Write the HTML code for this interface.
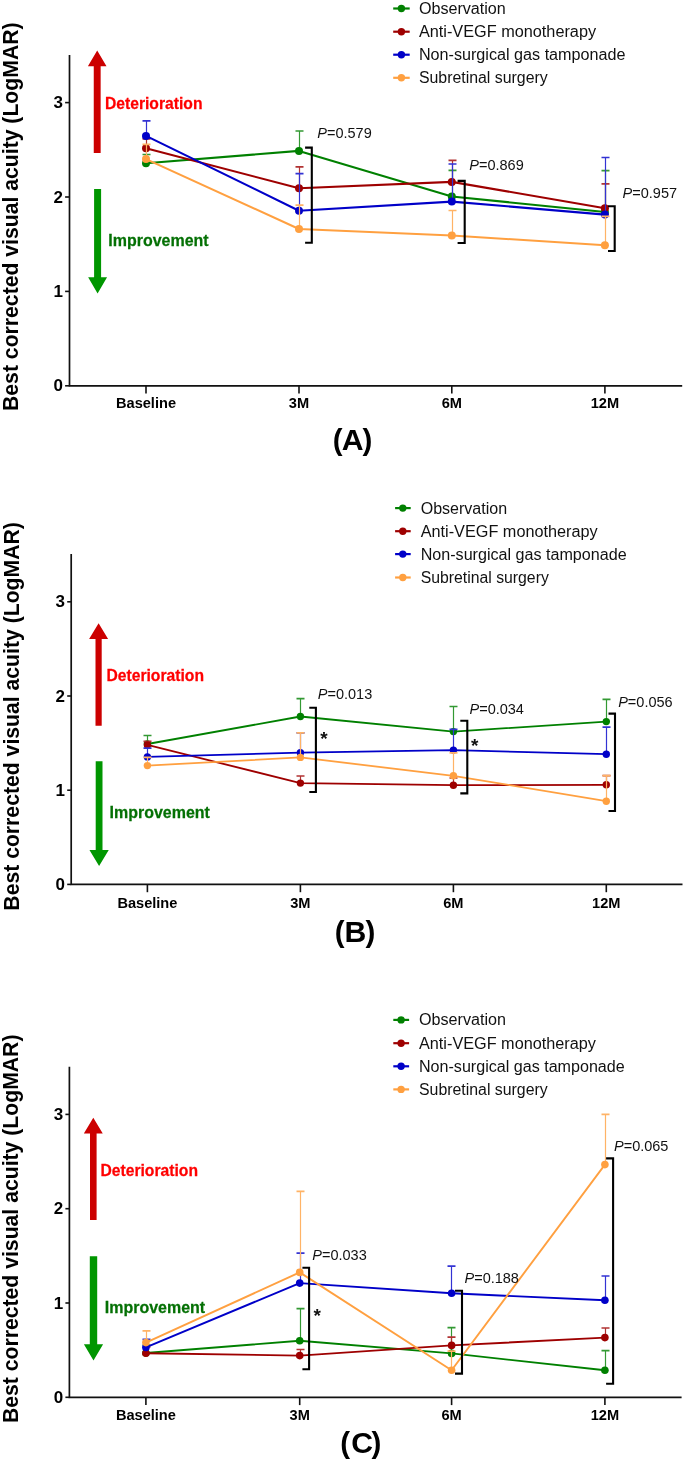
<!DOCTYPE html>
<html><head><meta charset="utf-8"><style>
html,body{margin:0;padding:0;background:#fff;}
body{width:685px;height:1461px;overflow:hidden;}
svg{display:block;font-family:"Liberation Sans", sans-serif;will-change:transform;}
</style></head><body>
<svg width="685" height="1461" viewBox="0 0 685 1461">
<rect width="685" height="1461" fill="#fff"/>
<path d="M69.5 55V385.8H682.2" fill="none" stroke="#111" stroke-width="1.7"/>
<path d="M65.1 385.8H69.5" stroke="#111" stroke-width="1.6"/>
<text x="62.9" y="391.4" text-anchor="end" font-weight="bold" font-size="17">0</text>
<path d="M65.1 291.4H69.5" stroke="#111" stroke-width="1.6"/>
<text x="62.9" y="297" text-anchor="end" font-weight="bold" font-size="17">1</text>
<path d="M65.1 197H69.5" stroke="#111" stroke-width="1.6"/>
<text x="62.9" y="202.6" text-anchor="end" font-weight="bold" font-size="17">2</text>
<path d="M65.1 102.6H69.5" stroke="#111" stroke-width="1.6"/>
<text x="62.9" y="108.2" text-anchor="end" font-weight="bold" font-size="17">3</text>
<path d="M146 385.8V393.6" stroke="#111" stroke-width="1.6"/>
<text x="146" y="408.4" text-anchor="middle" font-weight="bold" font-size="14.6">Baseline</text>
<path d="M299 385.8V393.6" stroke="#111" stroke-width="1.6"/>
<text x="299" y="408.4" text-anchor="middle" font-weight="bold" font-size="14.6">3M</text>
<path d="M451.8 385.8V393.6" stroke="#111" stroke-width="1.6"/>
<text x="451.8" y="408.4" text-anchor="middle" font-weight="bold" font-size="14.6">6M</text>
<path d="M604.9 385.8V393.6" stroke="#111" stroke-width="1.6"/>
<text x="604.9" y="408.4" text-anchor="middle" font-weight="bold" font-size="14.6">12M</text>
<text transform="translate(18 216.7) rotate(-90)" text-anchor="middle" font-weight="bold" font-size="21.2">Best corrected visual acuity (LogMAR)</text>
<text x="332.8" y="449.8" font-weight="bold" font-size="29.5">(</text>
<text x="341.8" y="449.8" font-weight="bold" font-size="30.2">A</text>
<text x="362.5" y="449.8" font-weight="bold" font-size="29.5">)</text>
<path d="M97.2 50.5L106.5 66.3H100.65V153H93.75V66.3H87.9Z" fill="#cc0000"/>
<path d="M97.6 293.6L107.05 277.2H101.1V188.9H94.1V277.2H88.15Z" fill="#009600"/>
<text transform="translate(104.9 108.7) scale(0.9335 1)" font-weight="bold" font-size="16.8" fill="#ff0000" stroke="#ff0000" stroke-width="0.25">Deterioration</text>
<text transform="translate(108.3 245.7) scale(0.9296 1)" font-weight="bold" font-size="17.2" fill="#047004" stroke="#047004" stroke-width="0.25">Improvement</text>
<path d="M393.2 8.5H409.7" stroke="#008000" stroke-width="2.2"/>
<circle cx="401.4" cy="8.5" r="3.7" fill="#008000"/>
<text x="418.9" y="14" font-size="16" fill="#111" textLength="86.9" lengthAdjust="spacingAndGlyphs">Observation</text>
<path d="M393.2 31.7H409.7" stroke="#9e0000" stroke-width="2.2"/>
<circle cx="401.4" cy="31.7" r="3.7" fill="#9e0000"/>
<text x="418.9" y="37.2" font-size="16" fill="#111" textLength="177.2" lengthAdjust="spacingAndGlyphs">Anti-VEGF monotherapy</text>
<path d="M393.2 54.7H409.7" stroke="#0000c8" stroke-width="2.2"/>
<circle cx="401.4" cy="54.7" r="3.7" fill="#0000c8"/>
<text x="418.9" y="60.2" font-size="16" fill="#111" textLength="206.6" lengthAdjust="spacingAndGlyphs">Non-surgical gas tamponade</text>
<path d="M393.2 77.8H409.7" stroke="#ffa040" stroke-width="2.2"/>
<circle cx="401.4" cy="77.8" r="3.7" fill="#ffa040"/>
<text x="418.9" y="83.3" font-size="16" fill="#111" textLength="128.8" lengthAdjust="spacingAndGlyphs">Subretinal surgery</text>
<path d="M146.5 163.3V154.5M299.5 150.9V131M452.5 196.5V170.3M605.5 212V170.6" stroke="#339933" stroke-width="1.2" fill="none"/>
<path d="M142.5 154.5H150.5M295.5 131H303.5M448.5 170.3H456.5M601.5 170.6H609.5" stroke="#339933" stroke-width="1.7" fill="none"/>
<path d="M146 163.3L299 150.9L451.8 196.5L604.9 212" stroke="#008000" stroke-width="2.1" fill="none" stroke-linejoin="round"/>
<circle cx="146" cy="163.3" r="4.0" fill="#008000"/>
<circle cx="299" cy="150.9" r="4.0" fill="#008000"/>
<circle cx="451.8" cy="196.5" r="4.0" fill="#008000"/>
<circle cx="604.9" cy="212" r="4.0" fill="#008000"/>
<path d="M146.5 148.3V138.8M299.5 188.2V166.9M452.5 181.9V160.4M605.5 208.2V183.8" stroke="#b13333" stroke-width="1.2" fill="none"/>
<path d="M142.5 138.8H150.5M295.5 166.9H303.5M448.5 160.4H456.5M601.5 183.8H609.5" stroke="#b13333" stroke-width="1.7" fill="none"/>
<path d="M146 148.3L299 188.2L451.8 181.9L604.9 208.2" stroke="#9e0000" stroke-width="2.1" fill="none" stroke-linejoin="round"/>
<circle cx="146" cy="148.3" r="4.0" fill="#9e0000"/>
<circle cx="299" cy="188.2" r="4.0" fill="#9e0000"/>
<circle cx="451.8" cy="181.9" r="4.0" fill="#9e0000"/>
<circle cx="604.9" cy="208.2" r="4.0" fill="#9e0000"/>
<path d="M146.5 135.9V120.8M299.5 210.7V173.6M452.5 201.6V164M605.5 214.6V157.5" stroke="#3333d3" stroke-width="1.2" fill="none"/>
<path d="M142.5 120.8H150.5M295.5 173.6H303.5M448.5 164H456.5M601.5 157.5H609.5" stroke="#3333d3" stroke-width="1.7" fill="none"/>
<path d="M146 135.9L299 210.7L451.8 201.6L604.9 214.6" stroke="#0000c8" stroke-width="2.1" fill="none" stroke-linejoin="round"/>
<circle cx="146" cy="135.9" r="4.0" fill="#0000c8"/>
<circle cx="299" cy="210.7" r="4.0" fill="#0000c8"/>
<circle cx="451.8" cy="201.6" r="4.0" fill="#0000c8"/>
<circle cx="604.9" cy="214.6" r="4.0" fill="#0000c8"/>
<path d="M146.5 159.1V144.3M299.5 229V205.2M452.5 235.5V210.5M605.5 245.2V216.3" stroke="#ffb366" stroke-width="1.2" fill="none"/>
<path d="M142.5 144.3H150.5M295.5 205.2H303.5M448.5 210.5H456.5M601.5 216.3H609.5" stroke="#ffb366" stroke-width="1.7" fill="none"/>
<path d="M146 159.1L299 229L451.8 235.5L604.9 245.2" stroke="#ffa040" stroke-width="2.1" fill="none" stroke-linejoin="round"/>
<circle cx="146" cy="159.1" r="4.0" fill="#ffa040"/>
<circle cx="299" cy="229" r="4.0" fill="#ffa040"/>
<circle cx="451.8" cy="235.5" r="4.0" fill="#ffa040"/>
<circle cx="604.9" cy="245.2" r="4.0" fill="#ffa040"/>
<path d="M305.1 147.6H311.8V242.8H305.1" fill="none" stroke="#000" stroke-width="2.1"/>
<path d="M457.6 180.9H464.7V243H457.6" fill="none" stroke="#000" stroke-width="2.1"/>
<path d="M608 206.3H614.7V251H608" fill="none" stroke="#000" stroke-width="2.1"/>
<text x="317.3" y="137.6" font-size="14.5" fill="#111"><tspan font-style="italic">P</tspan>=0.579</text>
<text x="469.3" y="170.1" font-size="14.5" fill="#111"><tspan font-style="italic">P</tspan>=0.869</text>
<text x="622.6" y="197.5" font-size="14.5" fill="#111"><tspan font-style="italic">P</tspan>=0.957</text>
<path d="M71.2 554V884.4H682.5" fill="none" stroke="#111" stroke-width="1.7"/>
<path d="M67.2 884.4H71.2" stroke="#111" stroke-width="1.6"/>
<text x="65" y="890" text-anchor="end" font-weight="bold" font-size="17">0</text>
<path d="M67.2 790.2H71.2" stroke="#111" stroke-width="1.6"/>
<text x="65" y="795.8" text-anchor="end" font-weight="bold" font-size="17">1</text>
<path d="M67.2 696H71.2" stroke="#111" stroke-width="1.6"/>
<text x="65" y="701.6" text-anchor="end" font-weight="bold" font-size="17">2</text>
<path d="M67.2 601.8H71.2" stroke="#111" stroke-width="1.6"/>
<text x="65" y="607.4" text-anchor="end" font-weight="bold" font-size="17">3</text>
<path d="M147.4 884.4V892.2" stroke="#111" stroke-width="1.6"/>
<text x="147.4" y="907.7" text-anchor="middle" font-weight="bold" font-size="14.6">Baseline</text>
<path d="M300.4 884.4V892.2" stroke="#111" stroke-width="1.6"/>
<text x="300.4" y="907.7" text-anchor="middle" font-weight="bold" font-size="14.6">3M</text>
<path d="M453.4 884.4V892.2" stroke="#111" stroke-width="1.6"/>
<text x="453.4" y="907.7" text-anchor="middle" font-weight="bold" font-size="14.6">6M</text>
<path d="M606.3 884.4V892.2" stroke="#111" stroke-width="1.6"/>
<text x="606.3" y="907.7" text-anchor="middle" font-weight="bold" font-size="14.6">12M</text>
<text transform="translate(18.8 716.4) rotate(-90)" text-anchor="middle" font-weight="bold" font-size="21.2">Best corrected visual acuity (LogMAR)</text>
<text x="334.8" y="941.8" font-weight="bold" font-size="29.5">(</text>
<text x="344.5" y="941.8" font-weight="bold" font-size="30.2">B</text>
<text x="365.5" y="941.8" font-weight="bold" font-size="29.5">)</text>
<path d="M98.6 623.2L108.1 639H101.7V725.7H95.5V639H89.1Z" fill="#cc0000"/>
<path d="M99.1 866L108.75 850H102.5V761.3H95.7V850H89.45Z" fill="#009600"/>
<text transform="translate(106.4 681.3) scale(0.9335 1)" font-weight="bold" font-size="16.8" fill="#ff0000" stroke="#ff0000" stroke-width="0.25">Deterioration</text>
<text transform="translate(109.6 818.3) scale(0.9296 1)" font-weight="bold" font-size="17.2" fill="#047004" stroke="#047004" stroke-width="0.25">Improvement</text>
<path d="M395.1 508.1H410.7" stroke="#008000" stroke-width="2.2"/>
<circle cx="402.8" cy="508.1" r="3.7" fill="#008000"/>
<text x="420.7" y="513.6" font-size="16" fill="#111" textLength="86.4" lengthAdjust="spacingAndGlyphs">Observation</text>
<path d="M395.1 531.2H410.7" stroke="#9e0000" stroke-width="2.2"/>
<circle cx="402.8" cy="531.2" r="3.7" fill="#9e0000"/>
<text x="420.7" y="536.7" font-size="16" fill="#111" textLength="177" lengthAdjust="spacingAndGlyphs">Anti-VEGF monotherapy</text>
<path d="M395.1 554.1H410.7" stroke="#0000c8" stroke-width="2.2"/>
<circle cx="402.8" cy="554.1" r="3.7" fill="#0000c8"/>
<text x="420.7" y="559.6" font-size="16" fill="#111" textLength="205.9" lengthAdjust="spacingAndGlyphs">Non-surgical gas tamponade</text>
<path d="M395.1 577.5H410.7" stroke="#ffa040" stroke-width="2.2"/>
<circle cx="402.8" cy="577.5" r="3.7" fill="#ffa040"/>
<text x="420.7" y="583" font-size="16" fill="#111" textLength="128.1" lengthAdjust="spacingAndGlyphs">Subretinal surgery</text>
<path d="M147.5 744V735.5M300.5 716.5V698.7M453.5 731.6V706.5M606.5 721.6V699.4" stroke="#339933" stroke-width="1.2" fill="none"/>
<path d="M143.5 735.5H151.5M296.5 698.7H304.5M449.5 706.5H457.5M602.5 699.4H610.5" stroke="#339933" stroke-width="1.7" fill="none"/>
<path d="M147.4 744L300.4 716.5L453.4 731.6L606.3 721.6" stroke="#008000" stroke-width="1.8" fill="none" stroke-linejoin="round"/>
<circle cx="147.4" cy="744" r="3.7" fill="#008000"/>
<circle cx="300.4" cy="716.5" r="3.7" fill="#008000"/>
<circle cx="453.4" cy="731.6" r="3.7" fill="#008000"/>
<circle cx="606.3" cy="721.6" r="3.7" fill="#008000"/>
<path d="M147.5 744.9V741.4M300.5 783.1V776M453.5 785.2V778M606.5 784.8V775.6" stroke="#b13333" stroke-width="1.2" fill="none"/>
<path d="M143.5 741.4H151.5M296.5 776H304.5M449.5 778H457.5M602.5 775.6H610.5" stroke="#b13333" stroke-width="1.7" fill="none"/>
<path d="M147.4 744.9L300.4 783.1L453.4 785.2L606.3 784.8" stroke="#9e0000" stroke-width="1.8" fill="none" stroke-linejoin="round"/>
<circle cx="147.4" cy="744.9" r="3.7" fill="#9e0000"/>
<circle cx="300.4" cy="783.1" r="3.7" fill="#9e0000"/>
<circle cx="453.4" cy="785.2" r="3.7" fill="#9e0000"/>
<circle cx="606.3" cy="784.8" r="3.7" fill="#9e0000"/>
<path d="M147.5 756.9V748.2M300.5 752.7V732.8M453.5 750.1V729.4M606.5 754.2V727.2" stroke="#3333d3" stroke-width="1.2" fill="none"/>
<path d="M143.5 748.2H151.5M296.5 732.8H304.5M449.5 729.4H457.5M602.5 727.2H610.5" stroke="#3333d3" stroke-width="1.7" fill="none"/>
<path d="M147.4 756.9L300.4 752.7L453.4 750.1L606.3 754.2" stroke="#0000c8" stroke-width="1.8" fill="none" stroke-linejoin="round"/>
<circle cx="147.4" cy="756.9" r="3.7" fill="#0000c8"/>
<circle cx="300.4" cy="752.7" r="3.7" fill="#0000c8"/>
<circle cx="453.4" cy="750.1" r="3.7" fill="#0000c8"/>
<circle cx="606.3" cy="754.2" r="3.7" fill="#0000c8"/>
<path d="M147.5 765.6V757.3M300.5 757.4V732.8M453.5 775.8V752.8M606.5 801.2V775.6" stroke="#ffb366" stroke-width="1.2" fill="none"/>
<path d="M143.5 757.3H151.5M296.5 732.8H304.5M449.5 752.8H457.5M602.5 775.6H610.5" stroke="#ffb366" stroke-width="1.7" fill="none"/>
<path d="M147.4 765.6L300.4 757.4L453.4 775.8L606.3 801.2" stroke="#ffa040" stroke-width="1.8" fill="none" stroke-linejoin="round"/>
<circle cx="147.4" cy="765.6" r="3.7" fill="#ffa040"/>
<circle cx="300.4" cy="757.4" r="3.7" fill="#ffa040"/>
<circle cx="453.4" cy="775.8" r="3.7" fill="#ffa040"/>
<circle cx="606.3" cy="801.2" r="3.7" fill="#ffa040"/>
<path d="M309.3 707.7H315.9V792H309.3" fill="none" stroke="#000" stroke-width="2.1"/>
<path d="M460.3 720.7H467.3V793.4H460.3" fill="none" stroke="#000" stroke-width="2.1"/>
<path d="M608.5 713.6H615V811H608.5" fill="none" stroke="#000" stroke-width="2.1"/>
<text x="317.8" y="699" font-size="14.5" fill="#111"><tspan font-style="italic">P</tspan>=0.013</text>
<text x="469.5" y="714.1" font-size="14.5" fill="#111"><tspan font-style="italic">P</tspan>=0.034</text>
<text x="618.2" y="706.7" font-size="14.5" fill="#111"><tspan font-style="italic">P</tspan>=0.056</text>
<text x="320.3" y="744.8" font-size="19" font-weight="bold" fill="#111">*</text>
<text x="471" y="751.9" font-size="19" font-weight="bold" fill="#111">*</text>
<path d="M69.4 1066.7V1397.3H681.6" fill="none" stroke="#111" stroke-width="1.7"/>
<path d="M65.4 1397.3H69.4" stroke="#111" stroke-width="1.6"/>
<text x="63.2" y="1402.9" text-anchor="end" font-weight="bold" font-size="17">0</text>
<path d="M65.4 1303H69.4" stroke="#111" stroke-width="1.6"/>
<text x="63.2" y="1308.6" text-anchor="end" font-weight="bold" font-size="17">1</text>
<path d="M65.4 1208.7H69.4" stroke="#111" stroke-width="1.6"/>
<text x="63.2" y="1214.3" text-anchor="end" font-weight="bold" font-size="17">2</text>
<path d="M65.4 1114.4H69.4" stroke="#111" stroke-width="1.6"/>
<text x="63.2" y="1120" text-anchor="end" font-weight="bold" font-size="17">3</text>
<path d="M145.9 1397.3V1405.1" stroke="#111" stroke-width="1.6"/>
<text x="145.9" y="1419.7" text-anchor="middle" font-weight="bold" font-size="14.6">Baseline</text>
<path d="M299.7 1397.3V1405.1" stroke="#111" stroke-width="1.6"/>
<text x="299.7" y="1419.7" text-anchor="middle" font-weight="bold" font-size="14.6">3M</text>
<path d="M451.6 1397.3V1405.1" stroke="#111" stroke-width="1.6"/>
<text x="451.6" y="1419.7" text-anchor="middle" font-weight="bold" font-size="14.6">6M</text>
<path d="M604.9 1397.3V1405.1" stroke="#111" stroke-width="1.6"/>
<text x="604.9" y="1419.7" text-anchor="middle" font-weight="bold" font-size="14.6">12M</text>
<text transform="translate(17.5 1228.8) rotate(-90)" text-anchor="middle" font-weight="bold" font-size="21.2">Best corrected visual acuity (LogMAR)</text>
<text x="340.3" y="1452.5" font-weight="bold" font-size="29.5">(</text>
<text x="351.2" y="1452.5" font-weight="bold" font-size="30.2">C</text>
<text x="371.4" y="1452.5" font-weight="bold" font-size="29.5">)</text>
<path d="M93.3 1117.8L102.75 1133.6H96.6V1219.9H90V1133.6H83.85Z" fill="#cc0000"/>
<path d="M93.5 1360.6L103.1 1344.2H97.2V1256.2H89.8V1344.2H83.9Z" fill="#009600"/>
<text transform="translate(100.4 1176.1) scale(0.9335 1)" font-weight="bold" font-size="16.8" fill="#ff0000" stroke="#ff0000" stroke-width="0.25">Deterioration</text>
<text transform="translate(104.8 1312.9) scale(0.9296 1)" font-weight="bold" font-size="17.2" fill="#047004" stroke="#047004" stroke-width="0.25">Improvement</text>
<path d="M393.3 1019.9H409.1" stroke="#008000" stroke-width="2.2"/>
<circle cx="401.1" cy="1019.9" r="3.7" fill="#008000"/>
<text x="419" y="1025.4" font-size="16" fill="#111" textLength="86.9" lengthAdjust="spacingAndGlyphs">Observation</text>
<path d="M393.3 1043.2H409.1" stroke="#9e0000" stroke-width="2.2"/>
<circle cx="401.1" cy="1043.2" r="3.7" fill="#9e0000"/>
<text x="419" y="1048.7" font-size="16" fill="#111" textLength="176.9" lengthAdjust="spacingAndGlyphs">Anti-VEGF monotherapy</text>
<path d="M393.3 1066.3H409.1" stroke="#0000c8" stroke-width="2.2"/>
<circle cx="401.1" cy="1066.3" r="3.7" fill="#0000c8"/>
<text x="419" y="1071.8" font-size="16" fill="#111" textLength="205.7" lengthAdjust="spacingAndGlyphs">Non-surgical gas tamponade</text>
<path d="M393.3 1089.4H409.1" stroke="#ffa040" stroke-width="2.2"/>
<circle cx="401.1" cy="1089.4" r="3.7" fill="#ffa040"/>
<text x="419" y="1094.9" font-size="16" fill="#111" textLength="128.7" lengthAdjust="spacingAndGlyphs">Subretinal surgery</text>
<path d="M146.5 1353V1345M300.5 1340.7V1308.6M451.5 1353.4V1327.6M605.5 1370.3V1350.6" stroke="#339933" stroke-width="1.2" fill="none"/>
<path d="M142.5 1345H150.5M296.5 1308.6H304.5M447.5 1327.6H455.5M601.5 1350.6H609.5" stroke="#339933" stroke-width="1.7" fill="none"/>
<path d="M145.9 1353L299.7 1340.7L451.6 1353.4L604.9 1370.3" stroke="#008000" stroke-width="1.9" fill="none" stroke-linejoin="round"/>
<circle cx="145.9" cy="1353" r="3.8" fill="#008000"/>
<circle cx="299.7" cy="1340.7" r="3.8" fill="#008000"/>
<circle cx="451.6" cy="1353.4" r="3.8" fill="#008000"/>
<circle cx="604.9" cy="1370.3" r="3.8" fill="#008000"/>
<path d="M146.5 1353.2V1347M300.5 1355.6V1349.5M451.5 1345.4V1337.1M605.5 1337.6V1328" stroke="#b13333" stroke-width="1.2" fill="none"/>
<path d="M142.5 1347H150.5M296.5 1349.5H304.5M447.5 1337.1H455.5M601.5 1328H609.5" stroke="#b13333" stroke-width="1.7" fill="none"/>
<path d="M145.9 1353.2L299.7 1355.6L451.6 1345.4L604.9 1337.6" stroke="#9e0000" stroke-width="1.9" fill="none" stroke-linejoin="round"/>
<circle cx="145.9" cy="1353.2" r="3.8" fill="#9e0000"/>
<circle cx="299.7" cy="1355.6" r="3.8" fill="#9e0000"/>
<circle cx="451.6" cy="1345.4" r="3.8" fill="#9e0000"/>
<circle cx="604.9" cy="1337.6" r="3.8" fill="#9e0000"/>
<path d="M146.5 1347.4V1339.3M300.5 1283.1V1253.1M451.5 1293.3V1266.1M605.5 1300.3V1276" stroke="#3333d3" stroke-width="1.2" fill="none"/>
<path d="M142.5 1339.3H150.5M296.5 1253.1H304.5M447.5 1266.1H455.5M601.5 1276H609.5" stroke="#3333d3" stroke-width="1.7" fill="none"/>
<path d="M145.9 1347.4L299.7 1283.1L451.6 1293.3L604.9 1300.3" stroke="#0000c8" stroke-width="1.9" fill="none" stroke-linejoin="round"/>
<circle cx="145.9" cy="1347.4" r="3.8" fill="#0000c8"/>
<circle cx="299.7" cy="1283.1" r="3.8" fill="#0000c8"/>
<circle cx="451.6" cy="1293.3" r="3.8" fill="#0000c8"/>
<circle cx="604.9" cy="1300.3" r="3.8" fill="#0000c8"/>
<path d="M146.5 1342.6V1330.8M300.5 1272.4V1191.3M451.5 1370.2V1351.2M605.5 1164.6V1114.3" stroke="#ffb366" stroke-width="1.2" fill="none"/>
<path d="M142.5 1330.8H150.5M296.5 1191.3H304.5M447.5 1351.2H455.5M601.5 1114.3H609.5" stroke="#ffb366" stroke-width="1.7" fill="none"/>
<path d="M145.9 1342.6L299.7 1272.4L451.6 1370.2L604.9 1164.6" stroke="#ffa040" stroke-width="1.9" fill="none" stroke-linejoin="round"/>
<circle cx="145.9" cy="1342.6" r="3.8" fill="#ffa040"/>
<circle cx="299.7" cy="1272.4" r="3.8" fill="#ffa040"/>
<circle cx="451.6" cy="1370.2" r="3.8" fill="#ffa040"/>
<circle cx="604.9" cy="1164.6" r="3.8" fill="#ffa040"/>
<path d="M302.4 1267.7H309.1V1369.2H302.4" fill="none" stroke="#000" stroke-width="2.1"/>
<path d="M455 1290.7H462V1373.6H455" fill="none" stroke="#000" stroke-width="2.1"/>
<path d="M606.1 1158.4H613.1V1383.7H606.1" fill="none" stroke="#000" stroke-width="2.1"/>
<text x="312.3" y="1260" font-size="14.5" fill="#111"><tspan font-style="italic">P</tspan>=0.033</text>
<text x="464.5" y="1283.4" font-size="14.5" fill="#111"><tspan font-style="italic">P</tspan>=0.188</text>
<text x="614" y="1151.2" font-size="14.5" fill="#111"><tspan font-style="italic">P</tspan>=0.065</text>
<text x="313.5" y="1322.3" font-size="19" font-weight="bold" fill="#111">*</text>
</svg>
</body></html>
